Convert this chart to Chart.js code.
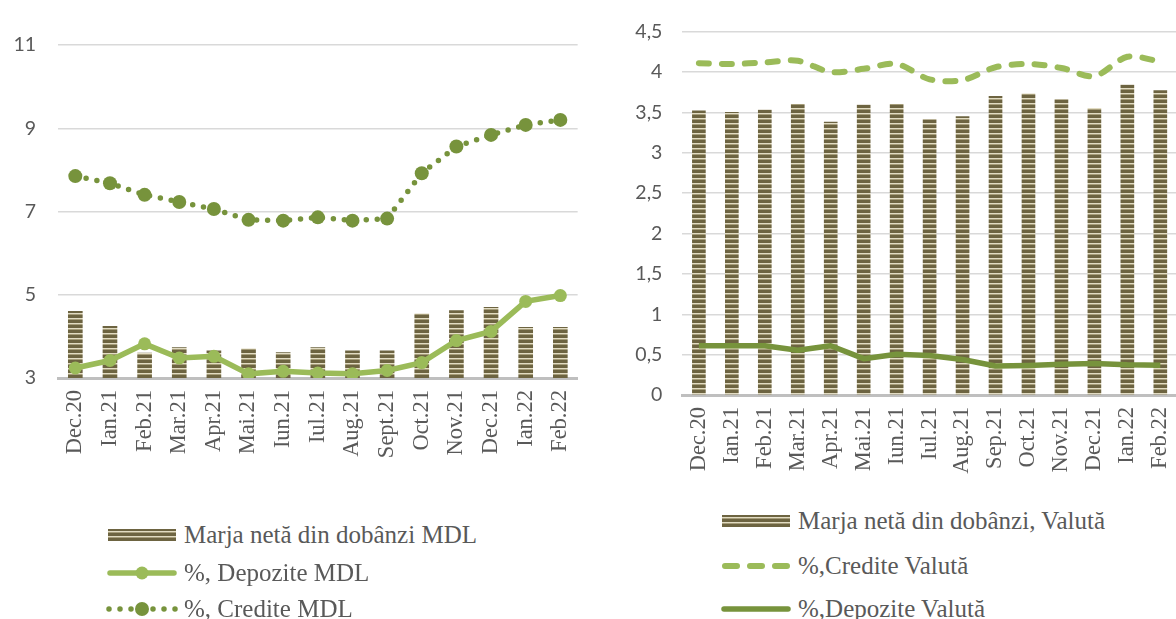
<!DOCTYPE html>
<html>
<head>
<meta charset="utf-8">
<script src="https://cdn.jsdelivr.net/npm/chart.js@4.4.1/dist/chart.umd.min.js"></script>
<style>
  body { margin: 0; width: 1176px; height: 619px; overflow: hidden; background: #fff; position: relative; }
  canvas.chart { position: absolute; top: 0; }
  #mdl { left: 0; }
  #valuta { left: 600px; }
  .legend-row { position: absolute; display: flex; align-items: center; height: 30px;
    font-family: "Liberation Serif", serif; font-size: 25px; color: #595959; white-space: nowrap; }
  .legend-row canvas { margin-right: 6px; }
</style>
</head>
<body>
<canvas id="mdl" class="chart" width="600" height="480"></canvas>
<canvas id="valuta" class="chart" width="600" height="500"></canvas>
<script>
// categories
const luniMDL = ['Dec.20','Ian.21','Feb.21','Mar.21','Apr.21','Mai.21','Iun.21','Iul.21','Aug.21','Sept.21','Oct.21','Nov.21','Dec.21','Ian.22','Feb.22'];
const luniValuta = ['Dec.20','Ian.21','Feb.21','Mar.21','Apr.21','Mai.21','Iun.21','Iul.21','Aug.21','Sep.21','Oct.21','Nov.21','Dec.21','Ian.22','Feb.22'];

// MDL series, %
const marjaMDL    = [4.60, 4.24, 3.60, 3.73, 3.65, 3.70, 3.61, 3.73, 3.65, 3.65, 4.54, 4.62, 4.70, 4.22, 4.22];
const depoziteMDL = [3.24, 3.42, 3.82, 3.48, 3.52, 3.10, 3.16, 3.12, 3.10, 3.18, 3.37, 3.90, 4.12, 4.84, 4.98];
const crediteMDL  = [7.85, 7.68, 7.40, 7.23, 7.06, 6.80, 6.78, 6.86, 6.78, 6.83, 7.92, 8.56, 8.84, 9.08, 9.20];

// foreign currency series, %
const marjaValuta    = [3.52, 3.50, 3.53, 3.60, 3.38, 3.59, 3.60, 3.41, 3.45, 3.70, 3.73, 3.66, 3.55, 3.84, 3.77];
const crediteValuta  = [4.11, 4.10, 4.12, 4.14, 4.00, 4.04, 4.10, 3.91, 3.90, 4.06, 4.10, 4.05, 3.95, 4.19, 4.13];
const depoziteValuta = [0.61, 0.61, 0.61, 0.555, 0.61, 0.45, 0.505, 0.49, 0.44, 0.36, 0.366, 0.38, 0.39, 0.375, 0.37];

// axis ticks
const ticksMDL = { min: 3, max: 11, step: 2 };
const ticksValuta = { min: 0, max: 4.5, step: 0.5 };

const GREEN_LIGHT = '#9bbb59';
const GREEN_DARK = '#77933c';
const TEXT = '#595959';

// striped fill for the margin bars
function stripes(ctx) {
  const p = document.createElement('canvas');
  p.width = 4; p.height = 5;
  const c = p.getContext('2d');
  c.fillStyle = '#6d6441'; c.fillRect(0, 0, 4, 3);
  c.fillStyle = '#e2dcc3'; c.fillRect(0, 3, 4, 1);
  c.fillStyle = '#a69d7a'; c.fillRect(0, 4, 4, 1);
  return ctx.createPattern(p, 'repeat');
}

function makeChart(id, labels, datasets, yt, geo) {
  const ctx = document.getElementById(id).getContext('2d');
  datasets.forEach(d => { if (d.type === 'bar') d.backgroundColor = stripes(ctx); });
  return new Chart(ctx, {
    data: { labels, datasets },
    options: {
      responsive: false,
      devicePixelRatio: 1,
      animation: false,
      layout: { padding: { top: geo.top, right: geo.right, left: 0, bottom: 0 } },
      plugins: { legend: { display: false }, tooltip: { enabled: false } },
      scales: {
        x: {
          offset: true,
          grid: { display: false, drawTicks: false },
          border: { display: true, color: '#bfbfbf', width: 3 },
          ticks: { minRotation: 90, maxRotation: 90, padding: 12, color: TEXT,
                   font: { family: 'Liberation Serif', size: 22.5 } },
          afterFit: s => { s.height = geo.xh; }
        },
        y: {
          min: yt.min, max: yt.max,
          grid: { color: '#d9d9d9', lineWidth: 1.5, drawTicks: false },
          border: { display: false },
          ticks: { stepSize: yt.step, padding: geo.pad, color: TEXT,
                   font: { family: 'Lato', size: 19.5 },
                   callback: v => String(v).replace('.', ',') },
          afterFit: s => { s.width = geo.yw; }
        }
      }
    }
  });
}

makeChart('mdl', luniMDL, [
  { type: 'line', label: '%, Depozite MDL', data: depoziteMDL, order: 1,
    borderColor: GREEN_LIGHT, backgroundColor: GREEN_LIGHT, borderWidth: 5.5,
    pointRadius: 6.5, pointBorderWidth: 0, pointBackgroundColor: GREEN_LIGHT, tension: 0 },
  { type: 'line', label: '%, Credite MDL', data: crediteMDL, order: 1,
    borderColor: GREEN_DARK, backgroundColor: GREEN_DARK, borderWidth: 5.5,
    borderDash: [0, 11], borderCapStyle: 'round',
    pointRadius: 7, pointBorderWidth: 0, pointBackgroundColor: GREEN_DARK, tension: 0 },
  { type: 'bar', label: 'Marja netă din dobânzi MDL', data: marjaMDL, order: 2, barThickness: 14 }
], ticksMDL, { top: 45, right: 20, xh: 102, yw: 58, pad: 22 });

makeChart('valuta', luniValuta, [
  { type: 'line', label: '%,Credite Valută', data: crediteValuta, order: 1,
    borderColor: GREEN_LIGHT, borderWidth: 6, borderDash: [10, 13], borderCapStyle: 'round',
    pointRadius: 0, tension: 0.3 },
  { type: 'line', label: '%,Depozite Valută', data: depoziteValuta, order: 1,
    borderColor: GREEN_DARK, borderWidth: 5.5, borderJoinStyle: 'round',
    pointRadius: 0, tension: 0 },
  { type: 'bar', label: 'Marja netă din dobânzi, Valută', data: marjaValuta, order: 2, barThickness: 13 }
], ticksValuta, { top: 27.5, right: 20.4, xh: 105, yw: 82.4, pad: 20 });

// legend swatches
function swatch(kind) {
  const cv = document.createElement('canvas');
  cv.width = 72; cv.height = 24;
  const c = cv.getContext('2d');
  const cy = 12;
  c.lineCap = 'round';
  if (kind === 'bar') {
    c.fillStyle = stripes(c);
    c.fillRect(2, cy - 6, 68, 12);
  } else if (kind === 'depMDL') {
    c.strokeStyle = GREEN_LIGHT; c.lineWidth = 5.5;
    c.beginPath(); c.moveTo(4, cy); c.lineTo(68, cy); c.stroke();
    c.fillStyle = GREEN_LIGHT;
    c.beginPath(); c.arc(36, cy, 6.5, 0, Math.PI * 2); c.fill();
  } else if (kind === 'credMDL') {
    c.strokeStyle = GREEN_DARK; c.lineWidth = 5.5;
    c.setLineDash([0, 11]);
    c.beginPath(); c.moveTo(3, cy); c.lineTo(70, cy); c.stroke();
    c.fillStyle = GREEN_DARK;
    c.beginPath(); c.arc(36, cy, 7, 0, Math.PI * 2); c.fill();
  } else if (kind === 'credVal') {
    c.strokeStyle = GREEN_LIGHT; c.lineWidth = 6;
    c.setLineDash([12, 13]);
    c.beginPath(); c.moveTo(5, cy); c.lineTo(70, cy); c.stroke();
  } else {
    c.strokeStyle = GREEN_DARK; c.lineWidth = 5.5;
    c.beginPath(); c.moveTo(4, cy); c.lineTo(68, cy); c.stroke();
  }
  return cv;
}

function legend(items, x, ys) {
  items.forEach((it, i) => {
    const row = document.createElement('div');
    row.className = 'legend-row';
    row.style.left = x + 'px';
    row.style.top = (ys[i] - 15) + 'px';
    row.appendChild(swatch(it[0]));
    const t = document.createElement('span');
    t.textContent = it[1];
    row.appendChild(t);
    document.body.appendChild(row);
  });
}

legend([['bar', 'Marja netă din dobânzi MDL'], ['depMDL', '%, Depozite MDL'], ['credMDL', '%, Credite MDL']],
       106, [535, 573, 609]);
legend([['bar', 'Marja netă din dobânzi, Valută'], ['credVal', '%,Credite Valută'], ['depVal', '%,Depozite Valută']],
       720, [521, 566, 609]);
</script>
</body>
</html>
